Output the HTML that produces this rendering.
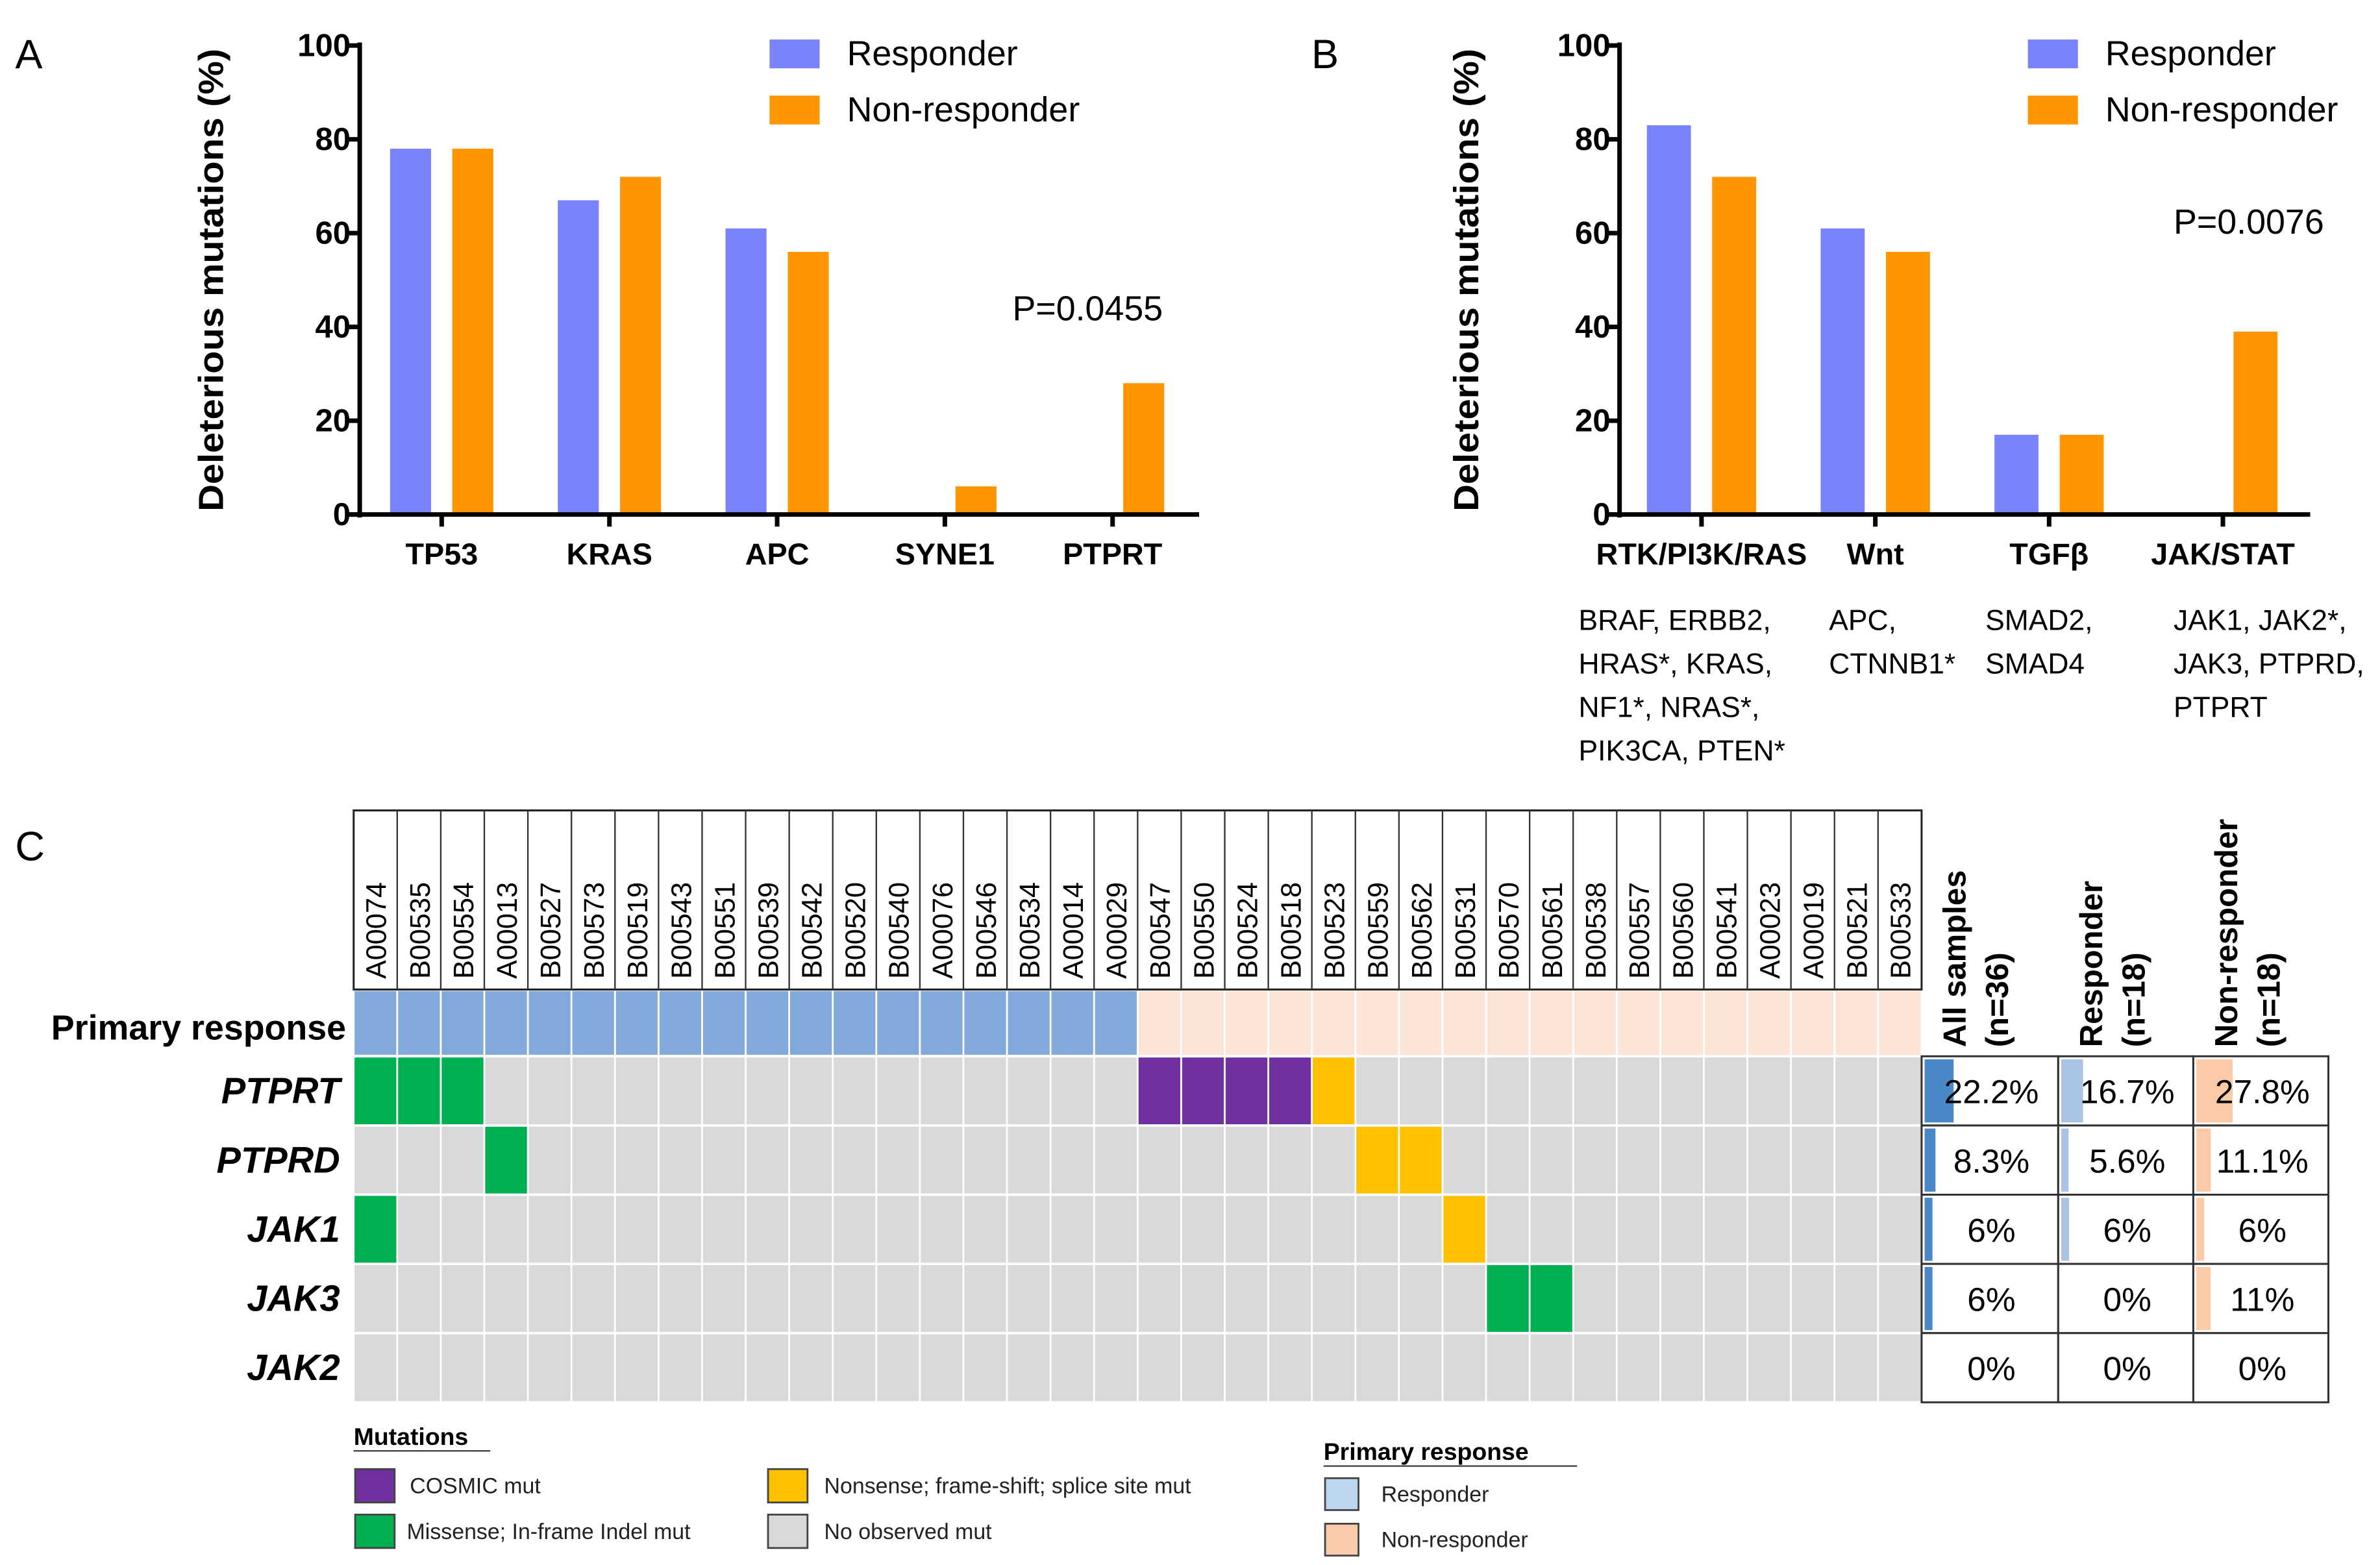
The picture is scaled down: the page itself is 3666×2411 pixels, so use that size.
<!DOCTYPE html>
<html><head><meta charset="utf-8"><style>
html,body{margin:0;padding:0;background:#fff}
svg{display:block}
text{font-family:"Liberation Sans",sans-serif}
.cal{font-family:"Liberation Sans Narrow","Liberation Sans",sans-serif}
</style></head><body>
<svg id="fig" xmlns="http://www.w3.org/2000/svg" width="3666" height="2411" viewBox="0 0 1568 1031.2" preserveAspectRatio="none">
<rect width="1568" height="1031.2" fill="#fff"/>
<g id="panelA"></g>
<g id="panelB"></g>
<g id="panelC"></g>
</svg>
<script>
// ---- Panel A data ----
const catsA = ["TP53","KRAS","APC","SYNE1","PTPRT"];
const respA = [78,67,61,0,0];
const nonA = [78,72,56,6,28];
// ---- Panel B data ----
const catsB = ["RTK/PI3K/RAS","Wnt","TGF\u03b2","JAK/STAT"];
const respB = [83,61,17,0];
const nonB = [72,56,17,39];
const yTicks = [0,20,40,60,80,100];
const geneListsB = [["BRAF, ERBB2,","HRAS*, KRAS,","NF1*, NRAS*,","PIK3CA, PTEN*"],["APC,","CTNNB1*"],["SMAD2,","SMAD4"],["JAK1, JAK2*,","JAK3, PTPRD,","PTPRT"]];
// ---- Panel C data ----
const samples = ["A00074","B00535","B00554","A00013","B00527","B00573","B00519","B00543","B00551","B00539","B00542","B00520","B00540","A00076","B00546","B00534","A00014","A00029","B00547","B00550","B00524","B00518","B00523","B00559","B00562","B00531","B00570","B00561","B00538","B00557","B00560","B00541","A00023","A00019","B00521","B00533"];
const responseGroup = [1,1,1,1,1,1,1,1,1,1,1,1,1,1,1,1,1,1,0,0,0,0,0,0,0,0,0,0,0,0,0,0,0,0,0,0];
const genes = ["PTPRT","PTPRD","JAK1","JAK3","JAK2"];
const mutPTPRT = [1,1,1,0,0,0,0,0,0,0,0,0,0,0,0,0,0,0,2,2,2,2,3,0,0,0,0,0,0,0,0,0,0,0,0,0];
const mutPTPRD = [0,0,0,1,0,0,0,0,0,0,0,0,0,0,0,0,0,0,0,0,0,0,0,3,3,0,0,0,0,0,0,0,0,0,0,0];
const mutJAK1  = [1,0,0,0,0,0,0,0,0,0,0,0,0,0,0,0,0,0,0,0,0,0,0,0,0,3,0,0,0,0,0,0,0,0,0,0];
const mutJAK3  = [0,0,0,0,0,0,0,0,0,0,0,0,0,0,0,0,0,0,0,0,0,0,0,0,0,0,1,1,0,0,0,0,0,0,0,0];
const mutJAK2  = [0,0,0,0,0,0,0,0,0,0,0,0,0,0,0,0,0,0,0,0,0,0,0,0,0,0,0,0,0,0,0,0,0,0,0,0];
const pctAll = [22.2,8.3,6,6,0];
const pctResp = [16.7,5.6,6,0,0];
const pctNon = [27.8,11.1,6,11,0];
const pctAllLbl = ["22.2%","8.3%","6%","6%","0%"];
const pctRespLbl = ["16.7%","5.6%","6%","0%","0%"];
const pctNonLbl = ["27.8%","11.1%","6%","11%","0%"];

const NS="http://www.w3.org/2000/svg";
function el(parent,tag,attrs,txt){const e=document.createElementNS(NS,tag);for(const k in attrs)e.setAttribute(k,attrs[k]);if(txt!==undefined)e.textContent=txt;parent.appendChild(e);return e;}

function barChart(g,opt){
  const y=v=>opt.y0-(v/100)*(opt.y0-opt.y100);
  const x=i=>opt.x0+opt.first+i*opt.step;
  const t=el(g,'text',{x:0,y:0,transform:`translate(${opt.titleX},${(opt.y0+opt.y100)/2}) rotate(-90)`,'text-anchor':'middle','font-size':23,'font-weight':'bold',textLength:305,lengthAdjust:'spacingAndGlyphs'},'Deleterious mutations (%)');
  
  opt.cats.forEach((c,i)=>{
    const cx=x(i);
    if(opt.r[i]>0){const b=el(g,'rect',{x:cx-opt.off-opt.bw,y:y(opt.r[i]),width:opt.bw,height:y(0)-y(opt.r[i]),fill:'#7B83FB'});
      }
    if(opt.n[i]>0){const b=el(g,'rect',{x:cx+opt.off,y:y(opt.n[i]),width:opt.bw,height:y(0)-y(opt.n[i]),fill:'#FF9500'});
      }
    const tk=el(g,'line',{x1:cx,x2:cx,y1:y(0),y2:y(0)+8,stroke:'#000','stroke-width':3});
    
    const lb=el(g,'text',{x:cx,y:y(0)+33,'text-anchor':'middle','font-size':20,'font-weight':'bold'},c);
    
  });
  const ya=el(g,'line',{x1:opt.x0,x2:opt.x0,y1:opt.y100-2,y2:y(0)+2,stroke:'#000','stroke-width':3});
  
  const xa=el(g,'line',{x1:opt.x0-8,x2:opt.xEnd,y1:y(0),y2:y(0),stroke:'#000','stroke-width':3});
  
  yTicks.forEach(v=>{
    const tk=el(g,'line',{x1:opt.x0-7,x2:opt.x0,y1:y(v),y2:y(v),stroke:'#000','stroke-width':3});
    
    const tl=el(g,'text',{x:opt.x0-6,y:y(v)+7,'text-anchor':'end','font-size':21,'font-weight':'bold'},String(v));
    
  });
  const l1=el(g,'rect',{x:opt.legX,y:26,width:33,height:19,fill:'#7B83FB'});
  
  const l1t=el(g,'text',{x:opt.legX+51,y:43,'font-size':23},'Responder');
  
  const l2=el(g,'rect',{x:opt.legX,y:63,width:33,height:19,fill:'#FF9500'});
  
  const l2t=el(g,'text',{x:opt.legX+51,y:80,'font-size':23},'Non-responder');
  
  const p=el(g,'text',{x:opt.pX,y:opt.pY,'font-size':23},opt.p);
  
  const pl=el(g,'text',{x:opt.labX,y:45,'font-size':27},opt.label);
  
}

const gA=document.getElementById('panelA');
barChart(gA,{cats:catsA,r:respA,n:nonA,x0:237,y0:339,y100:30,first:54,step:110.5,off:7,bw:27,xEnd:790,titleX:147,legX:507,pX:667,pY:211,p:'P=0.0455',labX:10,label:'A'});
const gB=document.getElementById('panelB');
barChart(gB,{cats:catsB,r:respB,n:nonB,x0:1067,y0:339,y100:30,first:54,step:114.5,off:7,bw:29,xEnd:1522,titleX:974,legX:1336,pX:1432,pY:154,p:'P=0.0076',labX:864,label:'B'});
const glX=[1040,1205,1308,1432];
geneListsB.forEach((lines,i)=>{lines.forEach((s,j)=>{
  const t=el(gB,'text',{x:glX[i],y:415+j*28.7,'font-size':19,class:'cal'},s);
  
});});

// ---- Panel C ----
const gC=document.getElementById('panelC');
const cx0=233, cw=(1266-233)/36, hTop=534, hBot=652, prTop=653, prBot=695, rowTop=696, rh=45.6;
const mutRows=[mutPTPRT,mutPTPRD,mutJAK1,mutJAK3,mutJAK2];
const mutColors=['#D9D9D9','#00B050','#7030A0','#FFC000'];
const lc=el(gC,'text',{x:10,y:567,'font-size':27},'C');

const hb=el(gC,'rect',{x:cx0,y:hTop,width:1266-cx0,height:hBot-hTop,fill:'#fff',stroke:'#222','stroke-width':1.3});

samples.forEach((s,i)=>{
  const x=cx0+i*cw;
  if(i>0){const ln=el(gC,'line',{x1:x,x2:x,y1:hTop,y2:hBot,stroke:'#333','stroke-width':1});
    }
  const t=el(gC,'text',{x:0,y:0,transform:`translate(${x+cw/2+7},${hBot-7}) rotate(-90)`,'font-size':18.5},s);
  
  const pr=el(gC,'rect',{x:x+0.6,y:prTop,width:cw-1.2,height:prBot-prTop,fill:responseGroup[i]?'#81A9DB':'#FCE4D6'});
  
  mutRows.forEach((row,r)=>{
    const c=el(gC,'rect',{x:x+0.6,y:rowTop+r*rh+0.8,width:cw-1.2,height:rh-1.6,fill:mutColors[row[i]]});
    
  });
});
const prl=el(gC,'text',{x:228,y:685,'text-anchor':'end','font-size':23,'font-weight':'bold',class:'cal'},'Primary response');

genes.forEach((gname,r)=>{
  const t=el(gC,'text',{x:224,y:rowTop+r*rh+31,'text-anchor':'end','font-size':24,'font-weight':'bold','font-style':'italic'},gname);
  
});
const tx=[1266,1356,1445,1534];
const hdr=[["All samples","(n=36)"],["Responder","(n=18)"],["Non-responder","(n=18)"]];
hdr.forEach((h,k)=>{
  h.forEach((s,j)=>{
    const t=el(gC,'text',{x:0,y:0,transform:`translate(${tx[k]+29+j*28},${690}) rotate(-90)`,'font-size':21,'font-weight':'bold'},s);
    
  });
});
const pctCols=[pctAll,pctResp,pctNon], pctLbls=[pctAllLbl,pctRespLbl,pctNonLbl], barCols=['#4A89C8','#AAC4E6','#FBCBA8'];
genes.forEach((gname,r)=>{
  pctCols.forEach((col,k)=>{
    const y=rowTop+r*rh;
    const cell=el(gC,'rect',{x:tx[k],y:y,width:tx[k+1]-tx[k],height:rh,fill:'#fff',stroke:'#333','stroke-width':1.3});
    
    if(col[r]>0){const b=el(gC,'rect',{x:tx[k]+2,y:y+2,width:col[r]*0.86,height:rh-4,fill:barCols[k]});
      }
    const t=el(gC,'text',{x:(tx[k]+tx[k+1])/2+1,y:y+31,'text-anchor':'middle','font-size':22,class:'cal'},pctLbls[k][r]);
    
  });
});
function legItem(x,y,w,h,fill,label,tx2,name){
  const r=el(gC,'rect',{x:x,y:y,width:w,height:h,fill:fill,stroke:'#444','stroke-width':1.2});
  
  const t=el(gC,'text',{x:tx2,y:y+h/2+5,'font-size':14.5,class:'cal',fill:'#222'},label);
  
}
const mt=el(gC,'text',{x:233,y:952,'font-size':16,'font-weight':'bold',class:'cal'},'Mutations');

el(gC,'line',{x1:233,x2:323,y1:956,y2:956,stroke:'#444','stroke-width':1});
legItem(234,968,26,22,'#7030A0','COSMIC mut',270,'legend-cosmic');
legItem(234,998,26,22,'#00B050','Missense; In-frame Indel mut',268,'legend-missense');
legItem(506,968,26,22,'#FFC000','Nonsense; frame-shift; splice site mut',543,'legend-nonsense');
legItem(506,998,26,22,'#D9D9D9','No observed mut',543,'legend-no-mut');
const pt=el(gC,'text',{x:872,y:962,'font-size':16,'font-weight':'bold',class:'cal'},'Primary response');

el(gC,'line',{x1:872,x2:1039,y1:966,y2:966,stroke:'#444','stroke-width':1});
legItem(873,974,22,21,'#BDD7EE','Responder',910,'legend-responder');
legItem(873,1004,22,21,'#F8CBAD','Non-responder',910,'legend-nonresponder');
</script>
</body></html>
